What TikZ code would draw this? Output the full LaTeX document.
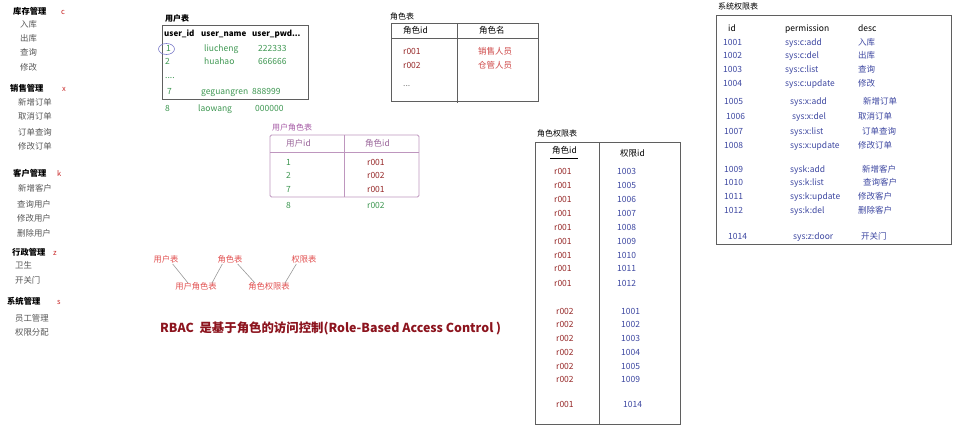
\documentclass[tikz,border=0pt]{standalone}
\usepackage{fontspec}
\setmainfont{Noto Sans CJK SC}
\definecolor{mgray}{RGB}{85,85,85}
\definecolor{mred}{RGB}{200,40,40}
\definecolor{ugreen}{RGB}{60,150,80}
\definecolor{dred}{RGB}{150,40,40}
\definecolor{rred}{RGB}{205,70,70}
\definecolor{pblue}{RGB}{60,70,160}
\definecolor{ppur}{RGB}{165,90,165}
\definecolor{pbord}{RGB}{190,150,190}
\definecolor{relred}{RGB}{225,80,80}
\definecolor{rbac}{RGB}{140,20,30}
\definecolor{bord}{RGB}{95,95,95}
\begin{document}
\begin{tikzpicture}[x=1pt,y=-1pt,
  t/.style={anchor=west,inner sep=0pt,text height=0.75em,text depth=0.2em,font=\fontsize{8.5}{10}\selectfont},
  ttl/.style={t,font=\fontsize{8}{10}\selectfont},
  mh/.style={t,font=\fontsize{8.3}{10}\selectfont\bfseries},
  mi/.style={t,font=\fontsize{8.4}{10}\selectfont,text=mgray},
  ml/.style={t,font=\fontsize{7.5}{9}\selectfont,text=mred},
  gr/.style={t,text=ugreen},
  dr/.style={t,text=dred},
  bl/.style={t,text=pblue},
  tbl/.style={draw=bord,line width=0.8pt},
  rel/.style={inner sep=0pt,text height=0.75em,text depth=0.2em,font=\fontsize{8.3}{10}\selectfont,text=relred},
  relline/.style={draw=gray!80,line width=0.6pt}]
\useasboundingbox (0,0) rectangle (963,431);
% ---------- left menu ----------
\node[mh] (h1) at (13,12) {库存管理}; \node[ml] (k1) at (61,12) {c};
\node[mi] (i11) at (20,25) {入库};
\node[mi] (i12) at (20,39) {出库};
\node[mi] (i13) at (20,53) {查询};
\node[mi] (i14) at (20,68) {修改};
\node[mh] (h2) at (10,89) {销售管理}; \node[ml] (k2) at (62,89) {x};
\node[mi] (i21) at (18,103) {新增订单};
\node[mi] (i22) at (18,117) {取消订单};
\node[mi] (i23) at (18,133) {订单查询};
\node[mi] (i24) at (18,147) {修改订单};
\node[mh] (h3) at (13,174) {客户管理}; \node[ml] (k3) at (57,174) {k};
\node[mi] (i31) at (18,189) {新增客户};
\node[mi] (i32) at (17,205) {查询用户};
\node[mi] (i33) at (17,219) {修改用户};
\node[mi] (i34) at (17,234) {删除用户};
\node[mh] (h4) at (12,253) {行政管理}; \node[ml] (k4) at (53,253) {z};
\node[mi] (i41) at (15,266) {卫生};
\node[mi] (i42) at (15,281) {开关门};
\node[mh] (h5) at (7,302) {系统管理}; \node[ml] (k5) at (57,302) {s};
\node[mi] (i51) at (15,319) {员工管理};
\node[mi] (i52) at (15,333) {权限分配};
% ---------- user table ----------
\node[ttl,font=\fontsize{8}{10}\selectfont\bfseries] (ut) at (165,19) {用户表};
\draw[tbl] (162,25) rectangle (308,99);
\node[t,font=\fontsize{8}{10}\selectfont\bfseries] (uh1) at (164,34) {user\_id};
\node[t,font=\fontsize{8}{10}\selectfont\bfseries] (uh2) at (201,34) {user\_name};
\node[t,font=\fontsize{8}{10}\selectfont\bfseries] (uh3) at (252,34) {user\_pwd...};
\node[gr] (u11) at (166,49) {1}; \node[gr] (u12) at (204,49) {liucheng}; \node[gr] (u13) at (258,49) {222333};
\draw[draw={rgb,255:red,120;green,120;blue,200},line width=0.6pt] (166.5,49) ellipse [x radius=8,y radius=5.5];
\node[gr] (u21) at (165,62) {2}; \node[gr] (u22) at (204,62) {huahao}; \node[gr] (u23) at (258,62) {666666};
\node[gr] (u31) at (165,76) {....};
\node[gr] (u41) at (167,92) {7}; \node[gr] (u42) at (201,92) {geguangren}; \node[gr] (u43) at (252,92) {888999};
\node[gr] (u51) at (165,109) {8}; \node[gr] (u52) at (198,109) {laowang}; \node[gr] (u53) at (255,109) {000000};
% ---------- role table ----------
\node[ttl] (rt) at (390,17) {角色表};
\draw[tbl] (391,23) rectangle (538,101);
\draw[tbl] (457,23) -- (457,103);
\draw[tbl] (391,38) -- (538,38);
\node[t] (rh1) at (403,31) {角色id}; \node[t] (rh2) at (479,31) {角色名};
\node[dr] (r11) at (403,52) {r001}; \node[t,text=rred] (r12) at (478,52) {销售人员};
\node[dr] (r21) at (403,66) {r002}; \node[t,text=rred] (r22) at (478,66) {仓管人员};
\node[t,text=gray] (r31) at (403,84) {...};
% ---------- user-role table ----------
\node[ttl,text=ppur] (urt) at (272,128) {用户角色表};
\draw[draw=pbord,line width=0.8pt,rounded corners=1.5pt] (270,135) rectangle (419,197);
\draw[draw=pbord,line width=0.8pt] (344,135) -- (344,197);
\draw[draw=pbord,line width=0.8pt] (270,152) -- (419,152);
\node[t,text=ppur!70!gray] (urh1) at (286,144) {用户id}; \node[t,text=ppur!70!gray] (urh2) at (365,144) {角色id};
\node[gr] (ur11) at (286,163) {1}; \node[dr] (ur12) at (367,163) {r001};
\node[gr] (ur21) at (286,176) {2}; \node[dr] (ur22) at (367,176) {r002};
\node[gr] (ur31) at (286,190) {7}; \node[dr] (ur32) at (367,190) {r001};
\node[gr] (ur41) at (286,206) {8}; \node[gr] (ur42) at (367,206) {r002};
% ---------- relation sketch ----------
\node[rel] (a) at (166,260) {用户表};
\node[rel] (b) at (230,260) {角色表};
\node[rel] (c) at (304,260) {权限表};
\node[rel] (d) at (196,287) {用户角色表};
\node[rel] (e) at (269,287) {角色权限表};
\draw[relline] ([xshift=-6pt,yshift=1pt]a.south east) -- ([xshift=13pt,yshift=-1pt]d.north west);
\draw[relline] ([xshift=5pt,yshift=1pt]b.south west) -- ([xshift=-5pt,yshift=-1pt]d.north east);
\draw[relline] ([xshift=-5pt,yshift=1pt]b.south east) -- ([xshift=7pt,yshift=-1pt]e.north west);
\draw[relline] ([xshift=5pt,yshift=1pt]c.south west) -- ([xshift=-5pt,yshift=-1pt]e.north east);
% ---------- RBAC ----------
\node[t,font=\fontsize{12.4}{15}\selectfont\bfseries,text=rbac] (rb) at (160,330) {RBAC\ \ 是基于角色的访问控制(Role-Based Access Control )};
% ---------- role-permission table ----------
\node[ttl] (rpt) at (537,134) {角色权限表};
\draw[tbl] (535,142) rectangle (680,424);
\draw[tbl] (599,142) -- (599,424);
\node[t] (rph1) at (552,151) {角色id}; \node[t] (rph2) at (620,154) {权限id};
\draw[line width=0.6pt] (550,158) -- (578,158);
\foreach \yy/\pp [count=\i] in {172/1003,186/1005,200/1006,214/1007,228/1008,242/1009,256/1010,269/1011,284/1012}{
  \node[dr] (rp\i a) at (554,\yy) {r001};
  \node[bl] (rp\i b) at (617,\yy) {\pp};
}
\foreach \yy/\pp [count=\i] in {312/1001,325/1002,339/1003,353/1004,367/1005,380/1009}{
  \node[dr] (rq\i a) at (556,\yy) {r002};
  \node[bl] (rq\i b) at (621,\yy) {\pp};
}
\node[dr] (rs1a) at (556,405) {r001}; \node[bl] (rs1b) at (623,405) {1014};
% ---------- permission table ----------
\node[ttl] (pt) at (718,7) {系统权限表};
\draw[tbl] (716,15) rectangle (951,244);
\node[t] (ph1) at (728,29) {id}; \node[t] (ph2) at (785,29) {permission}; \node[t] (ph3) at (858,29) {desc};
\foreach \yy/\xa/\id/\xb/\perm/\xc/\dsc [count=\i] in {
  43/723/1001/785/sys:c:add/858/入库,
  56/723/1002/785/sys:c:del/858/出库,
  70/723/1003/785/sys:c:list/858/查询,
  84/723/1004/785/sys:c:update/858/修改,
  102/724/1005/790/sys:x:add/863/新增订单,
  117/726/1006/792/sys:x:del/858/取消订单,
  132/724/1007/790/sys:x:list/862/订单查询,
  146/724/1008/790/sys:x:update/858/修改订单,
  170/724/1009/790/sysk:add/862/新增客户,
  183/724/1010/790/sys:k:list/863/查询客户,
  197/724/1011/790/sys:k:update/858/修改客户,
  211/724/1012/790/sys:k:del/858/删除客户,
  237/728/1014/793/sys:z:door/861/开关门}{
  \node[bl] (p\i a) at (\xa,\yy) {\id};
  \node[bl] (p\i b) at (\xb,\yy) {\perm};
  \node[bl] (p\i c) at (\xc,\yy) {\dsc};
}
\end{tikzpicture}
\end{document}
